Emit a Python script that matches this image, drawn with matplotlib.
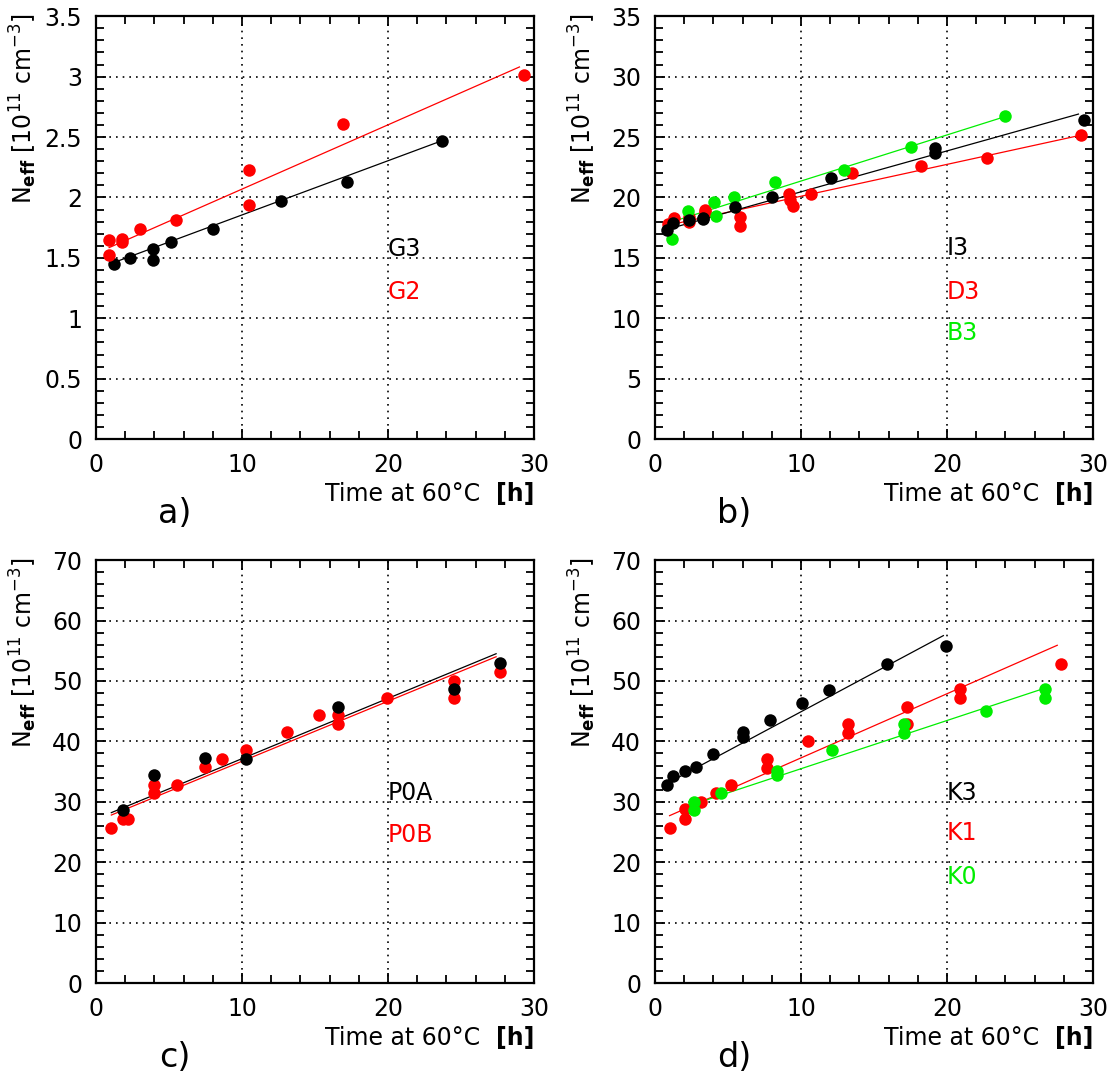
import matplotlib
matplotlib.use('Agg')
import matplotlib.pyplot as plt
from matplotlib.ticker import MultipleLocator

plt.rcParams['font.family'] = ['DejaVu Sans']
plt.rcParams['mathtext.fontset'] = 'dejavusans'

RED = '#ff0000'
GREEN = '#00ee00'
BLACK = '#000000'

# ---- panel a ----
g3_t = [1.25, 2.3, 3.9, 3.9, 5.15, 8.0, 12.65, 17.2, 23.7]
g3_n = [1.45, 1.50, 1.57, 1.48, 1.63, 1.74, 1.97, 2.13, 2.47]
g3_fit_t = [1.3, 23.7]
g3_fit_n = [1.465, 2.47]

g2_t = [0.9, 0.9, 1.8, 1.8, 3.0, 5.45, 10.5, 10.5, 16.9, 29.3]
g2_n = [1.65, 1.52, 1.66, 1.63, 1.74, 1.81, 2.23, 1.94, 2.61, 3.01]
g2_fit_t = [0.9, 29.0]
g2_fit_n = [1.585, 3.08]

# ---- panel b ----
i3_t = [0.8, 1.25, 2.3, 3.3, 3.3, 5.5, 8.0, 12.05, 19.2, 19.2, 29.35]
i3_n = [17.3, 17.85, 18.1, 18.3, 18.2, 19.2, 20.0, 21.6, 24.1, 23.7, 26.4]
i3_fit_t = [0.8, 29.0]
i3_fit_n = [17.35, 26.9]

d3_t = [0.9, 1.3, 2.3, 2.3, 3.4, 3.4, 5.8, 5.8, 9.2, 9.25, 9.45, 10.7, 13.5, 18.25, 22.75, 29.15]
d3_n = [17.8, 18.3, 18.0, 18.4, 19.0, 18.8, 18.4, 17.6, 20.3, 19.8, 19.3, 20.3, 22.0, 22.6, 23.3, 25.2]
d3_fit_t = [0.9, 29.15]
d3_fit_n = [17.7, 25.15]

b3_t = [1.2, 2.25, 4.05, 4.2, 5.4, 8.2, 12.95, 17.55, 24.0]
b3_n = [16.6, 18.9, 19.6, 18.45, 20.0, 21.3, 22.3, 24.2, 26.7]
b3_fit_t = [1.2, 24.0]
b3_fit_n = [18.0, 26.7]

# ---- panel c ----
p0a_t = [1.85, 3.95, 7.45, 10.25, 16.6, 24.55, 27.7]
p0a_n = [28.7, 34.4, 37.2, 37.1, 45.75, 48.6, 52.9]
p0a_fit_t = [1.05, 27.4]
p0a_fit_n = [28.2, 54.5]

p0b_t = [1.0, 1.85, 2.2, 3.95, 3.95, 5.55, 7.45, 8.65, 10.25, 13.1, 15.3, 16.6, 16.6, 19.9, 24.55, 24.55, 27.7]
p0b_n = [25.7, 27.2, 27.2, 32.8, 31.4, 32.8, 35.7, 37.15, 38.6, 41.5, 44.3, 44.3, 42.8, 47.1, 50.05, 47.1, 51.4]
p0b_fit_t = [1.05, 27.4]
p0b_fit_n = [27.8, 54.0]

# ---- panel d ----
k3_t = [0.8, 1.25, 2.05, 2.8, 4.0, 6.05, 6.05, 7.85, 10.05, 11.9, 15.9, 19.95]
k3_n = [32.8, 34.3, 35.05, 35.7, 37.9, 41.5, 40.7, 43.55, 46.4, 48.55, 52.85, 55.7]
k3_fit_t = [0.8, 19.75]
k3_fit_n = [33.0, 57.5]

k1_t = [1.0, 2.05, 2.05, 3.15, 4.15, 5.2, 7.7, 7.7, 10.5, 13.25, 13.25, 17.25, 17.25, 20.9, 20.9, 27.8]
k1_n = [25.7, 28.8, 27.2, 29.9, 31.5, 32.85, 37.15, 35.6, 40.0, 42.9, 41.45, 45.7, 42.9, 48.6, 47.1, 52.8]
k1_fit_t = [1.0, 27.55]
k1_fit_n = [27.7, 55.9]

k0_t = [2.65, 2.65, 4.5, 8.35, 8.35, 12.1, 17.05, 17.05, 22.65, 26.7, 26.7]
k0_n = [30.0, 28.6, 31.4, 35.05, 34.4, 38.5, 42.9, 41.45, 45.05, 48.6, 47.1]
k0_fit_t = [2.65, 26.7]
k0_fit_n = [29.6, 48.8]

panels = [
    dict(ylim=3.5, major=0.5, minor=0.1, letter='a)',
         series=[(g3_t, g3_n, g3_fit_t, g3_fit_n, BLACK, 'G3', 1.57),
                 (g2_t, g2_n, g2_fit_t, g2_fit_n, RED, 'G2', 1.22)]),
    dict(ylim=35, major=5, minor=1, letter='b)',
         series=[(d3_t, d3_n, d3_fit_t, d3_fit_n, RED, 'D3', 12.2),
                 (b3_t, b3_n, b3_fit_t, b3_fit_n, GREEN, 'B3', 8.75),
                 (i3_t, i3_n, i3_fit_t, i3_fit_n, BLACK, 'I3', 15.8)]),
    dict(ylim=70, major=10, minor=2, letter='c)',
         series=[(p0b_t, p0b_n, p0b_fit_t, p0b_fit_n, RED, 'P0B', 24.5),
                 (p0a_t, p0a_n, p0a_fit_t, p0a_fit_n, BLACK, 'P0A', 31.4)]),
    dict(ylim=70, major=10, minor=2, letter='d)',
         series=[(k3_t, k3_n, k3_fit_t, k3_fit_n, BLACK, 'K3', 31.4),
                 (k1_t, k1_n, k1_fit_t, k1_fit_n, RED, 'K1', 24.8),
                 (k0_t, k0_n, k0_fit_t, k0_fit_n, GREEN, 'K0', 17.5)]),
]

fig, axes = plt.subplots(2, 2, figsize=(11.15, 10.8), dpi=100)
fig.subplots_adjust(left=0.0861, right=0.9803, bottom=0.0898, top=0.985,
                    wspace=0.276, hspace=0.286)

for ax, p in zip(axes.flat, panels):
    for t, n, ft, fn, col, name, ty in p['series']:
        ax.plot(ft, fn, color=col, linewidth=0.9, zorder=2)
        ax.plot(t, n, 'o', color=col, markersize=9, markeredgewidth=0, zorder=3)
        ax.text(20.0, ty, name, color=col, fontsize=17, ha='left', va='center')

    ax.set_xlim(0, 30)
    ax.set_ylim(0, p['ylim'])
    ax.xaxis.set_major_locator(MultipleLocator(10))
    ax.xaxis.set_minor_locator(MultipleLocator(2))
    ax.yaxis.set_major_locator(MultipleLocator(p['major']))
    ax.yaxis.set_minor_locator(MultipleLocator(p['minor']))
    ax.yaxis.set_major_formatter(plt.FuncFormatter(lambda v, pos: ('%g' % v)))
    ax.tick_params(which='both', direction='in', top=True, right=True,
                   labelsize=17, pad=10, width=1.3, color='black')
    ax.tick_params(which='major', length=7.5)
    ax.tick_params(which='minor', length=6)
    ax.grid(True, which='major', color='black', linestyle=(0, (1, 3)), linewidth=1.2)
    for s in ax.spines.values():
        s.set_linewidth(1.6)

    ax.text(-0.165, 1.008, r'N$_{\mathbf{eff}}$ [10$^{11}$ cm$^{-3}$]', transform=ax.transAxes,
            rotation=90, ha='center', va='top', fontsize=17)
    ax.text(0.877, -0.13, 'Time at 60°C', transform=ax.transAxes,
            ha='right', va='center', fontsize=17)
    ax.text(1.0, -0.13, '[h]', transform=ax.transAxes,
            ha='right', va='center', fontsize=17, fontweight='bold')
    ax.text(0.18, -0.175, p['letter'], transform=ax.transAxes,
            ha='center', va='center', fontsize=24)

fig.savefig('out.png', dpi=100)
